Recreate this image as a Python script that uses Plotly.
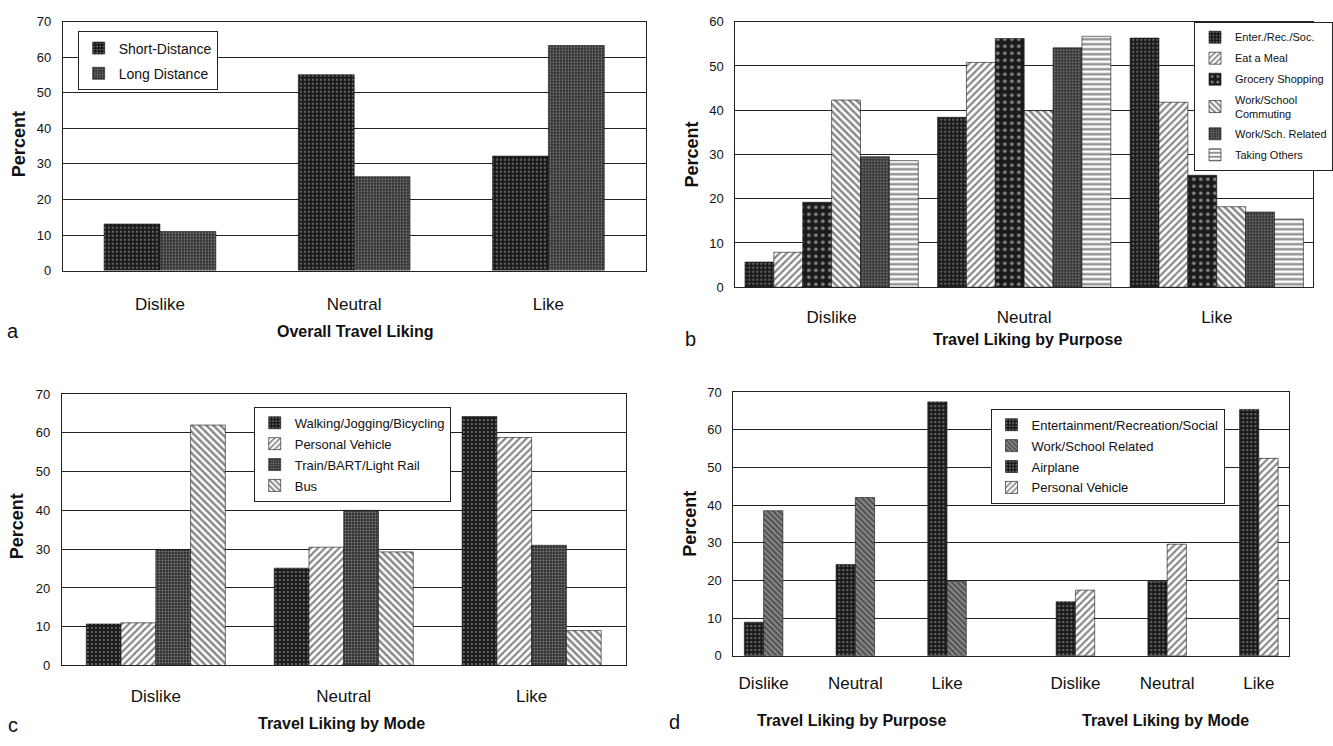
import plotly.graph_objects as go

# ---------------- data ----------------
liking = ["Dislike", "Neutral", "Like"]

# Panel a - Overall travel liking
short_distance = [13.1, 55.1, 32.2]
long_distance = [11.0, 26.4, 63.3]

# Panel b - Travel liking by purpose
enter_rec_soc = [5.7, 38.4, 56.3]
eat_meal = [7.9, 50.8, 41.8]
grocery = [19.2, 56.2, 25.3]
commuting = [42.3, 39.9, 18.2]
work_related = [29.5, 54.1, 17.0]
taking_others = [28.6, 56.7, 15.4]

# Panel c - Travel liking by mode
walking = [10.7, 25.1, 64.2]
personal_vehicle_c = [11.0, 30.5, 58.8]
train = [29.9, 40.0, 31.0]
bus = [62.0, 29.3, 9.0]

# Panel d - long-distance liking by purpose / by mode
entertainment = [8.9, 24.2, 67.4]
work_school = [38.5, 42.0, 19.7]
airplane = [14.3, 19.7, 65.4]
personal_vehicle_d = [17.4, 29.6, 52.4]

# ---------------- styles ----------------
W, H = 1333, 746
FONT = "Liberation Sans, Arial, Helvetica, sans-serif"

def pat(kind):
    if kind == "dot_dark":
        return dict(color="#1b1b1b", pattern=dict(shape=".", fgcolor="#e8e8e8", size=4, solidity=0.18, fillmode="overlay"))
    if kind == "dot_mid":
        return dict(color="#2e2e2e", pattern=dict(shape=".", fgcolor="#e0e0e0", size=3, solidity=0.3, fillmode="overlay"))
    if kind == "confetti":
        return dict(color="#1a1a1a", pattern=dict(shape=".", fgcolor="#f0f0f0", size=7, solidity=0.22, fillmode="overlay"))
    if kind == "fwd":
        return dict(color="#ffffff", pattern=dict(shape="/", fgcolor="#111111", size=5, solidity=0.45, fillmode="overlay"))
    if kind == "back":
        return dict(color="#ffffff", pattern=dict(shape="\\", fgcolor="#111111", size=5, solidity=0.5, fillmode="overlay"))
    if kind == "back_gray":
        return dict(color="#8a8a8a", pattern=dict(shape="\\", fgcolor="#111111", size=4, solidity=0.5, fillmode="overlay"))
    if kind == "horiz":
        return dict(color="#ffffff", pattern=dict(shape="-", fgcolor="#111111", size=5, solidity=0.45, fillmode="overlay"))
    raise ValueError(kind)


def px_x(x):
    return x / W


def px_y(y):
    return 1 - y / H


fig = go.Figure()


def add_group(series, xaxis, yaxis, legend, group_width, xs=None):
    n = len(series)
    bw = group_width / n
    for k, (name, vals, kind) in enumerate(series):
        m = pat(kind)
        fig.add_trace(go.Bar(
            x=xs if xs is not None else liking, y=vals, name=name,
            xaxis=xaxis, yaxis=yaxis, legend=legend,
            width=bw, offset=-group_width / 2 + k * bw,
            marker=dict(color=m["color"], pattern=m["pattern"],
                        line=dict(color="#111111", width=0.6)),
            legendgroup=legend + name,
        ))


# Panel a
add_group([("Short-Distance", short_distance, "dot_dark"),
           ("Long Distance", long_distance, "dot_mid")],
          "x", "y", "legend", 0.575)

# Panel b
add_group([("Enter./Rec./Soc.", enter_rec_soc, "dot_dark"),
           ("Eat a Meal", eat_meal, "fwd"),
           ("Grocery Shopping", grocery, "confetti"),
           ("Work/School<br>Commuting", commuting, "back"),
           ("Work/Sch. Related", work_related, "dot_mid"),
           ("Taking Others", taking_others, "horiz")],
          "x2", "y2", "legend2", 0.9)

# Panel c
add_group([("Walking/Jogging/Bicycling", walking, "dot_dark"),
           ("Personal Vehicle", personal_vehicle_c, "fwd"),
           ("Train/BART/Light Rail", train, "dot_mid"),
           ("Bus", bus, "back")],
          "x3", "y3", "legend3", 0.74)

# Panel d : purpose groups then mode groups on one numeric axis
group_index = [0, 1, 2]
mode_shift = 3.4
purpose_pos = [g for g in group_index]
mode_pos = [g + mode_shift for g in group_index]
gw_d = 0.42
for k, (name, vals, kind, xs) in enumerate([
        ("Entertainment/Recreation/Social", entertainment, "dot_dark", purpose_pos),
        ("Work/School Related", work_school, "back_gray", purpose_pos),
        ("Airplane", airplane, "dot_dark", mode_pos),
        ("Personal Vehicle", personal_vehicle_d, "fwd", mode_pos)]):
    m = pat(kind)
    slot = k % 2
    fig.add_trace(go.Bar(
        x=xs, y=vals, name=name, xaxis="x4", yaxis="y4", legend="legend4",
        width=gw_d / 2, offset=-gw_d / 2 + slot * gw_d / 2,
        marker=dict(color=m["color"], pattern=m["pattern"],
                    line=dict(color="#111111", width=0.6)),
        legendgroup="d" + name,
    ))

# ---------------- axes ----------------
domains = {
    "a": ([px_x(63), px_x(647)], [px_y(269), px_y(15)]),
    "b": ([px_x(737), px_x(1316)], [px_y(286), px_y(15)]),
    "c": ([px_x(62), px_x(627)], [px_y(672), px_y(395)]),
    "d": ([px_x(735), px_x(1292)], [px_y(662), px_y(393)]),
}


def xcfg(dom, standoff, **kw):
    d = dict(domain=dom, showline=True, linecolor="#222222", linewidth=1, mirror=True,
             ticks="", showgrid=False, zeroline=False, fixedrange=True,
             tickfont=dict(family=FONT, size=17, color="#111111"),
             ticklabelstandoff=standoff)
    d.update(kw)
    return d


def ycfg(dom, top, anchor):
    return dict(domain=dom, range=[0, top], dtick=10, anchor=anchor,
                showline=True, linecolor="#222222", linewidth=1, mirror=True,
                showgrid=True, gridcolor="#222222", gridwidth=1, zeroline=False,
                ticks="", ticklabelstandoff=8, fixedrange=True,
                tickfont=dict(family=FONT, size=13, color="#111111"))


layout = dict(
    width=W, height=H, margin=dict(l=0, r=0, t=0, b=0),
    paper_bgcolor="white", plot_bgcolor="white", barmode="overlay",
    font=dict(family=FONT, color="#111111"),
    xaxis=xcfg(domains["a"][0], 18, anchor="y", range=[-0.5, 2.5]),
    yaxis=ycfg(domains["a"][1], 70, "x"),
    xaxis2=xcfg(domains["b"][0], 14, anchor="y2", range=[-0.5, 2.5]),
    yaxis2=ycfg(domains["b"][1], 60, "x2"),
    xaxis3=xcfg(domains["c"][0], 15, anchor="y3", range=[-0.5, 2.5]),
    yaxis3=ycfg(domains["c"][1], 70, "x3"),
    xaxis4=xcfg(domains["d"][0], 12, anchor="y4", range=[-0.33, 5.73],
                tickmode="array", tickvals=purpose_pos + mode_pos, ticktext=liking + liking),
    yaxis4=ycfg(domains["d"][1], 70, "x4"),
)

legend_common = dict(bgcolor="white", bordercolor="#222222", borderwidth=1,
                     traceorder="grouped", yanchor="top")
layout["legend"] = dict(legend_common, x=px_x(148), xanchor="center", y=px_y(25),
                        font=dict(family=FONT, size=14, color="#111111"), tracegroupgap=4)
layout["legend2"] = dict(legend_common, x=px_x(1197), xanchor="left", y=px_y(15),
                         font=dict(family=FONT, size=11, color="#111111"), tracegroupgap=2)
layout["legend3"] = dict(legend_common, x=px_x(353), xanchor="center", y=px_y(408),
                         font=dict(family=FONT, size=13, color="#111111"), tracegroupgap=1)
layout["legend4"] = dict(legend_common, x=px_x(1110), xanchor="center", y=px_y(410),
                         font=dict(family=FONT, size=13, color="#111111"), tracegroupgap=1)

fig.update_layout(**layout)

# ---------------- text annotations ----------------
def ann(text, x, y, size, bold=False, angle=0):
    fig.add_annotation(text=f"<b>{text}</b>" if bold else text,
                       x=px_x(x), y=px_y(y), xref="paper", yref="paper",
                       showarrow=False, textangle=angle, xanchor="center", yanchor="middle",
                       font=dict(family=FONT, size=size, color="#111111"))

ann("Overall Travel Liking", 356, 331, 16, bold=True)
ann("a", 13, 331, 20)
ann("Percent", 19, 140, 18, bold=True, angle=-90)

ann("Travel Liking by Purpose", 1030, 339, 16, bold=True)
ann("b", 692, 339, 20)
ann("Percent", 694, 150, 18, bold=True, angle=-90)

ann("Travel Liking by Mode", 342, 731, 16, bold=True)
ann("c", 13, 733, 20)
ann("Percent", 17, 530, 18, bold=True, angle=-90)

ann("Travel Liking by Purpose", 853, 728, 16, bold=True)
ann("Travel Liking by Mode", 1168, 728, 16, bold=True)
ann("d", 676, 730, 20)
ann("Percent", 692, 527, 18, bold=True, angle=-90)

fig.write_html("out.html", config={"displayModeBar": False},
               post_script="document.body.style.margin='0';")
